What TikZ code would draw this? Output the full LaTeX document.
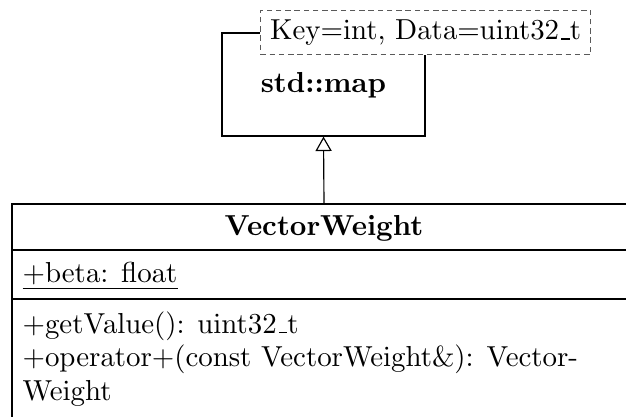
\documentclass[tikz,border=0pt]{standalone}
\usepackage[OT1]{fontenc}
\renewcommand\rmdefault{cmr}
\usetikzlibrary{arrows.meta}

\begin{document}
\begin{tikzpicture}[x=0.346pt, y=-0.346pt,
  umlline/.style={draw=black, line width=0.4pt},
  classframe/.style={umlline, rectangle, inner sep=0pt},
  templatebox/.style={draw=black!65, fill=white, rectangle,
    dash pattern=on 1.9pt off 1.3pt, line width=0.4pt},
  umltext/.style={inner sep=0pt},
  inherit/.style={umlline, -{Triangle[open, length=5pt, width=5.6pt]}}]

\useasboundingbox (0,0) rectangle (626,416);

% template class std::map
\node[classframe, minimum width=203*0.346pt, minimum height=103*0.346pt] (map) at (323.5,84.5) {};
\node[umltext, anchor=base] (mapname) at (323.5,92) {\bfseries std::map};
\node[templatebox] (tmpl) at (map.north east) {Key=int, Data=uint32\_t};

% class VectorWeight
\node[classframe, minimum width=624*0.346pt, minimum height=216*0.346pt] (vw) at (324,312) {};
\draw[umlline] (vw.west |- 0,250) -- (vw.east |- 0,250);
\draw[umlline] (vw.west |- 0,299) -- (vw.east |- 0,299);
\node[umltext, anchor=base] (vwname) at (324,235) {\bfseries VectorWeight};
\node[umltext, anchor=base west] (attr) at (22,282) {\underline{+beta: float}};
\node[umltext, anchor=base west] (op1) at (22,333) {+getValue(): uint32\_t};
\node[umltext, anchor=base west] (op2) at (22,366) {+operator+(const VectorWeight\&): Vector-};
\node[umltext, anchor=base west] (op3) at (22,400) {Weight};

% generalisation
\draw[inherit] (vw.north) -- (map.south);
\end{tikzpicture}
\end{document}
